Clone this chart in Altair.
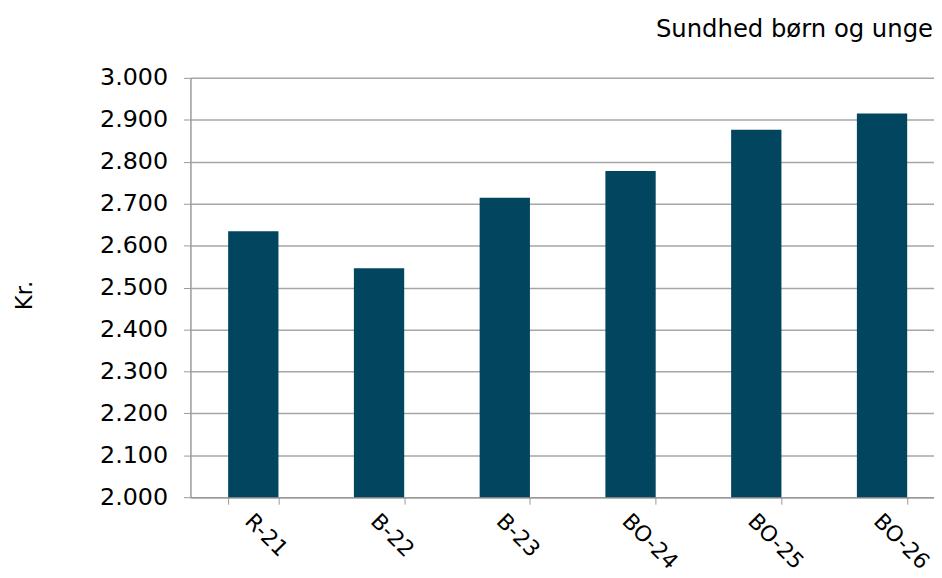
import altair as alt
import pandas as pd

categories = ["R-21", "B-22", "B-23", "BO-24", "BO-25", "BO-26"]
values = [2634, 2546, 2714, 2778, 2876, 2915]
base_value = 2000

df = pd.DataFrame({"kategori": categories, "kr": values})

FONT = "DejaVu Sans"

chart = alt.Chart(df).mark_bar(color="#02455E").encode(
    x=alt.X("kategori:N", sort=categories,
            scale=alt.Scale(range=[0, 761], paddingInner=0.6, paddingOuter=0.3),
            axis=alt.Axis(title=None, labelAngle=45, labelAlign="left", labelBaseline="top",
                          labelFont=FONT, labelFontSize=22, labelColor="#000000",
                          labelPadding=6, labelOffset=2,
                          tickBand="extent", tickSize=7, tickColor="#999999",
                          domainColor="#999999", domainWidth=1.5, grid=False)),
    y=alt.Y("kr:Q", scale=alt.Scale(domain=[2000, 3000], nice=False, zero=False),
            axis=alt.Axis(title="Kr.", titleFont=FONT, titleFontSize=23, titleFontWeight="normal",
                          titleColor="#000000", titleX=-155, titleY=219,
                          values=list(range(2000, 3001, 100)),
                          labelExpr="replace(format(datum.value, ',d'), ',', '.')",
                          labelFont=FONT, labelFontSize=24, labelColor="#000000", labelPadding=16,
                          tickSize=7, tickColor="#999999", domainColor="#999999", domainWidth=1.5,
                          grid=True, gridColor="#a6a6a6", gridWidth=1.5)),
    y2=alt.datum(base_value),
).properties(
    width=750,
    height=423,
    autosize=alt.AutoSizeParams(type="none"),
    padding={"left": 184, "top": 68, "right": 0, "bottom": 77},
    title=alt.TitleParams("Sundhed børn og unge", anchor="end", font=FONT, fontSize=24.5,
                          fontWeight="normal", color="#000000", offset=24, dx=-12),
).configure_view(stroke=None)

chart.save("out.html", embed_options={"renderer": "svg", "actions": False})
